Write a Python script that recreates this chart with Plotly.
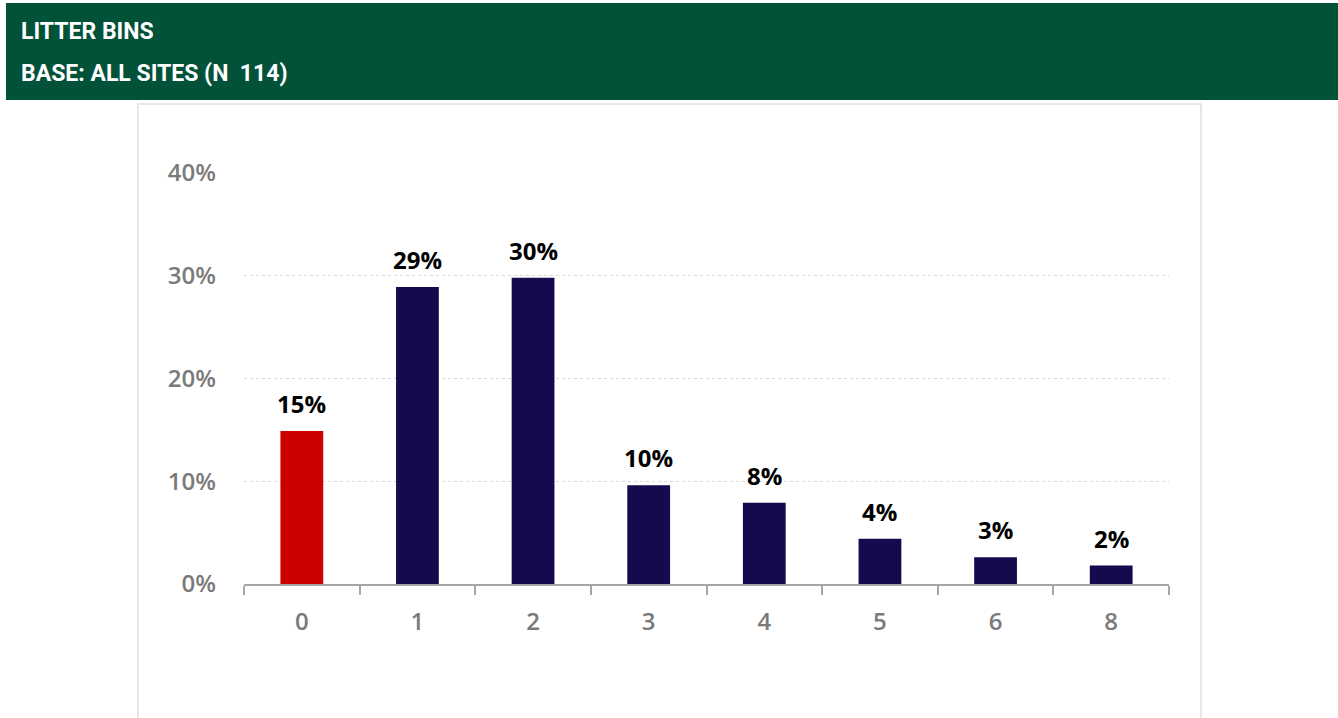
import plotly.graph_objects as go

# Number of litter bins per site and share of sites (%)
categories = ["0", "1", "2", "3", "4", "5", "6", "8"]
shares = [14.9, 28.9, 29.8, 9.6, 7.9, 4.4, 2.6, 1.8]
bar_colors = ["#CC0000"] + ["#140A4E"] * 7
y_ticks = [0, 10, 20, 30, 40]
y_tick_labels = ["0%", "10%", "20%", "30%", "40%"]
title_lines = ["LITTER BINS", "BASE: ALL SITES (N  114)"]

W, H = 1338, 718
L, R, T, B = 244, 1169, 173, 584  # plot area in pixels


def px(x):
    return (x - L) / (R - L)


def py(y):
    return (B - y) / (B - T)


fig = go.Figure(
    go.Bar(
        x=categories,
        y=shares,
        marker=dict(color=bar_colors, line=dict(width=0)),
        width=0.37,
        hoverinfo="skip",
    )
)

# value labels above each bar, taken from the same values as the bars
# (positioned by category index so that "8" is not read as a numeric position)
value_labels = [
    dict(x=i, y=v, xref="x", yref="y", text=f"{v:.0f}%", showarrow=False,
         xanchor="center", yanchor="bottom", yshift=9,
         font=dict(family="Open Sans", size=24, color="#000000", weight="bold"))
    for i, v in enumerate(shares)
]

shapes = [
    # header band
    dict(type="rect", xref="paper", yref="paper", x0=px(6), x1=px(1338),
         y0=py(100), y1=py(3), fillcolor="#02523A", line=dict(width=0), layer="below"),
    # chart frame
    dict(type="rect", xref="paper", yref="paper", x0=px(138), x1=px(1201),
         y0=py(722), y1=py(104), fillcolor="rgba(0,0,0,0)",
         line=dict(color="#E0E0E0", width=1.5), layer="below"),
]

header = [
    dict(text=title_lines[0], xref="paper", yref="paper", x=px(19), y=py(31),
         xanchor="left", yanchor="middle", showarrow=False,
         font=dict(family="Roboto", size=23, color="#FFFFFF", weight="bold")),
    dict(text=title_lines[1], xref="paper", yref="paper", x=px(19), y=py(73),
         xanchor="left", yanchor="middle", showarrow=False,
         font=dict(family="Roboto", size=23, color="#FFFFFF", weight="bold")),
]

fig.update_layout(
    width=W, height=H,
    margin=dict(l=L, r=W - R, t=T, b=H - B, pad=0),
    paper_bgcolor="#FFFFFF", plot_bgcolor="#FFFFFF",
    showlegend=False,
    shapes=shapes,
    annotations=header + value_labels,
)

fig.update_yaxes(
    range=[0, 40],
    tickvals=y_ticks, ticktext=y_tick_labels,
    showgrid=True, gridcolor="#D9D9D9", griddash="dot", gridwidth=1,
    zeroline=False, showline=False,
    ticks="", ticklabelstandoff=27,
    tickfont=dict(family="Open Sans", size=24, color="#7A7A7A", weight=600),
)

fig.update_xaxes(
    type="category",
    range=[-0.5, len(categories) - 0.5],
    showline=True, linecolor="#A6A6A6", linewidth=1.5,
    ticks="outside", tickson="boundaries", ticklen=9, tickcolor="#A6A6A6", tickwidth=1.5,
    showgrid=False,
    ticklabelstandoff=15,
    tickfont=dict(family="Open Sans", size=24, color="#7A7A7A", weight=600),
)

fig.write_html("out.html")
